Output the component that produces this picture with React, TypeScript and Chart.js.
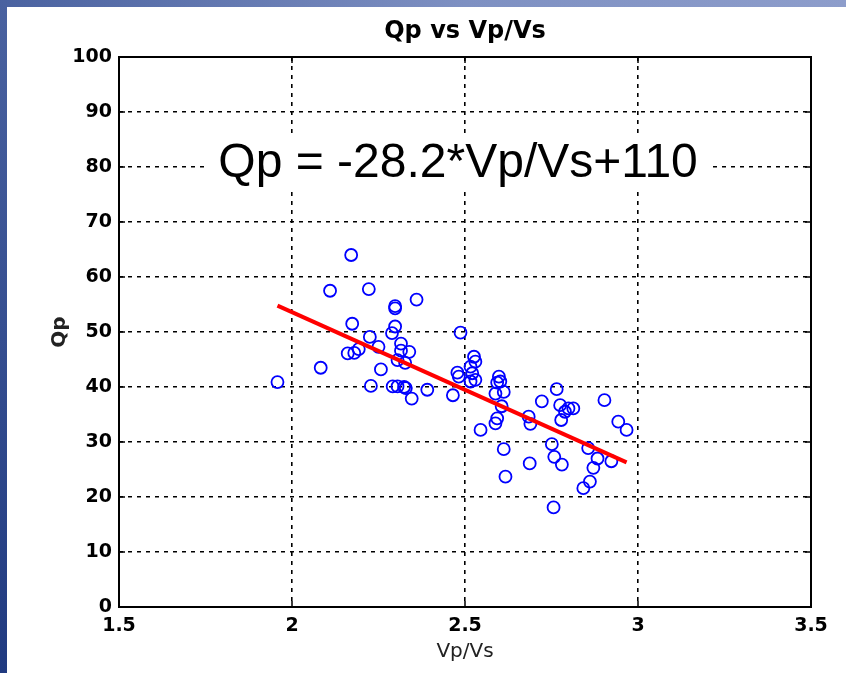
import React, { useEffect, useRef } from "react";
import { Chart, registerables } from "chart.js";

Chart.register(...registerables);

// Vp/Vs values of the measurements
const vpvs: number[] = [
  1.958, 2.083, 2.110, 2.161, 2.171, 2.174, 2.180, 2.193, 2.222, 2.225,
  2.228, 2.250, 2.257, 2.289, 2.291, 2.298, 2.298, 2.298, 2.305, 2.305,
  2.315, 2.315, 2.324, 2.327, 2.329, 2.339, 2.346, 2.360, 2.391, 2.465,
  2.478, 2.482, 2.487, 2.516, 2.521, 2.526, 2.530, 2.516, 2.530, 2.545,
  2.588, 2.593, 2.598, 2.602, 2.612, 2.606, 2.593, 2.588, 2.612, 2.617,
  2.684, 2.689, 2.687, 2.722, 2.751, 2.756, 2.758, 2.765, 2.775, 2.778,
  2.780, 2.789, 2.799, 2.813, 2.842, 2.856, 2.861, 2.871, 2.883, 2.903,
  2.923, 2.943, 2.967,
];
// Qp values of the measurements
const qp: number[] = [
  40.9, 43.5, 57.5, 46.1, 64.0, 51.5, 46.2, 46.9, 57.8, 49.1,
  40.2, 47.3, 43.2, 49.8, 40.1, 54.7, 54.3, 51.0, 40.1, 44.9,
  47.9, 46.6, 40.0, 44.4, 39.8, 46.4, 37.9, 55.9, 39.5, 38.5,
  42.6, 41.9, 49.9, 43.7, 42.5, 45.5, 44.6, 41.0, 41.3, 32.2,
  38.8, 40.8, 41.9, 41.0, 39.1, 36.5, 34.3, 33.4, 28.7, 23.7,
  34.6, 33.3, 26.1, 37.4, 29.6, 18.1, 27.3, 39.6, 36.7, 34.0,
  25.9, 35.5, 36.1, 36.1, 21.6, 28.9, 22.8, 25.3, 27.0, 37.6,
  26.5, 33.7, 32.2,
];
// fitted line end points
const fitX: number[] = [1.958, 2.967];
const fitY: number[] = [54.8, 26.3];

const xTicks: number[] = [1.5, 2, 2.5, 3, 3.5];
const xTickLabels: string[] = ["1.5", "2", "2.5", "3", "3.5"];
const yTicks: number[] = [0, 10, 20, 30, 40, 50, 60, 70, 80, 90, 100];

const titleText = "Qp vs Vp/Vs";
const xLabel = "Vp/Vs";
const yLabel = "Qp";
const equationText = "Qp = -28.2*Vp/Vs+110";
const equationPos = { x: 2.48, y: 81 };

const TICK_FONT = { family: "DejaVu Sans", size: 19, weight: "bold" as const };

const matlabPlugin = {
  id: "matlabDecor",
  beforeDatasetsDraw(chart: any) {
    const { ctx, scales } = chart;
    const px = scales.x.getPixelForValue(equationPos.x);
    const py = scales.y.getPixelForValue(equationPos.y);
    ctx.save();
    ctx.font = "48px 'Liberation Sans', Arial, sans-serif";
    const w = ctx.measureText(equationText).width;
    ctx.fillStyle = "#ffffff";
    ctx.fillRect(px - w / 2 - 14, py - 28, w + 28, 56);
    ctx.fillStyle = "#000000";
    ctx.textAlign = "center";
    ctx.textBaseline = "middle";
    ctx.fillText(equationText, px, py + 2);
    ctx.restore();
  },
  afterDraw(chart: any) {
    const { ctx, chartArea: a, scales } = chart;
    ctx.save();
    ctx.strokeStyle = "#000";
    ctx.lineWidth = 2;
    ctx.strokeRect(a.left, a.top, a.right - a.left, a.bottom - a.top);
    ctx.lineWidth = 1.5;
    ctx.beginPath();
    for (const v of xTicks) {
      const x = scales.x.getPixelForValue(v);
      ctx.moveTo(x, a.bottom);
      ctx.lineTo(x, a.bottom - 6);
      ctx.moveTo(x, a.top);
      ctx.lineTo(x, a.top + 6);
    }
    for (const v of yTicks) {
      const y = scales.y.getPixelForValue(v);
      ctx.moveTo(a.left, y);
      ctx.lineTo(a.left + 6, y);
      ctx.moveTo(a.right, y);
      ctx.lineTo(a.right - 6, y);
    }
    ctx.stroke();
    ctx.fillStyle = "#000";
    ctx.font = "bold 24px 'DejaVu Sans', sans-serif";
    ctx.textAlign = "center";
    ctx.textBaseline = "middle";
    ctx.fillText(titleText, (a.left + a.right) / 2, 32);
    ctx.restore();
  },
};

export default function App() {
  const ref = useRef<HTMLCanvasElement | null>(null);

  useEffect(() => {
    if (!ref.current) return;
    const points = vpvs.map((x, i) => ({ x, y: qp[i] }));
    const fit = fitX.map((x, i) => ({ x, y: fitY[i] }));
    const chart = new Chart(ref.current, {
      type: "scatter",
      data: {
        datasets: [
          {
            type: "line",
            data: fit,
            borderColor: "#ff0000",
            borderWidth: 4,
            pointRadius: 0,
            showLine: true,
            fill: false,
            order: 0,
          } as any,
          {
            data: points,
            pointStyle: "circle",
            pointRadius: 6,
            pointBorderWidth: 1.8,
            borderColor: "#0000ff",
            backgroundColor: "rgba(0,0,0,0)",
            order: 1,
          },
        ],
      },
      options: {
        animation: false,
        responsive: false,
        maintainAspectRatio: false,
        layout: { padding: { top: 57, right: 35, left: 0, bottom: 0 } },
        plugins: {
          legend: { display: false },
          tooltip: { enabled: false },
          title: { display: false },
        },
        scales: {
          x: {
            type: "linear",
            min: 1.5,
            max: 3.5,
            afterBuildTicks: (s: any) => {
              s.ticks = xTicks.map((v) => ({ value: v }));
            },
            afterFit: (s: any) => {
              s.height = 66;
            },
            ticks: {
              color: "#000",
              font: TICK_FONT,
              padding: 8,
              maxRotation: 0,
              callback: (v: any) => {
                const i = xTicks.indexOf(Number(v));
                return i >= 0 ? xTickLabels[i] : String(v);
              },
            },
            grid: {
              color: (c: any) =>
                c.tick && (c.tick.value === 1.5 || c.tick.value === 3.5)
                  ? "rgba(0,0,0,0)"
                  : "#000",
              lineWidth: 1.6,
              drawTicks: false,
            },
            border: { display: false, dash: [4, 5] },
            title: {
              display: true,
              text: xLabel,
              color: "#222",
              font: { family: "DejaVu Sans", size: 20 },
              padding: { top: 0, bottom: 9 },
            },
          },
          y: {
            type: "linear",
            min: 0,
            max: 100,
            afterBuildTicks: (s: any) => {
              s.ticks = yTicks.map((v) => ({ value: v }));
            },
            afterFit: (s: any) => {
              s.width = 119;
            },
            ticks: {
              color: "#000",
              font: TICK_FONT,
              padding: 7,
            },
            grid: {
              color: (c: any) =>
                c.tick && (c.tick.value === 0 || c.tick.value === 100)
                  ? "rgba(0,0,0,0)"
                  : "#000",
              lineWidth: 1.6,
              drawTicks: false,
            },
            border: { display: false, dash: [4, 5] },
            title: {
              display: true,
              text: yLabel,
              color: "#222",
              font: { family: "DejaVu Sans", size: 20, weight: "bold" },
              padding: { top: 48, bottom: 0 },
            },
          },
        },
      },
      plugins: [matlabPlugin],
    });
    return () => chart.destroy();
  }, []);

  return (
    <div
      style={{
        position: "fixed",
        left: 0,
        top: 0,
        width: 846,
        height: 673,
        background: "#ffffff",
        overflow: "hidden",
      }}
    >
      <div
        style={{
          position: "absolute",
          left: 0,
          top: 0,
          width: 846,
          height: 7,
          background: "linear-gradient(to right, #4a62a0, #7e90c2 55%, #8d9dcb)",
        }}
      />
      <div
        style={{
          position: "absolute",
          left: 0,
          top: 0,
          width: 7,
          height: 673,
          background: "linear-gradient(to bottom, #4a62a0, #203a80)",
        }}
      />
      <canvas
        ref={ref}
        width={846}
        height={673}
        style={{ position: "absolute", left: 0, top: 0, width: 846, height: 673 }}
      />
    </div>
  );
}
